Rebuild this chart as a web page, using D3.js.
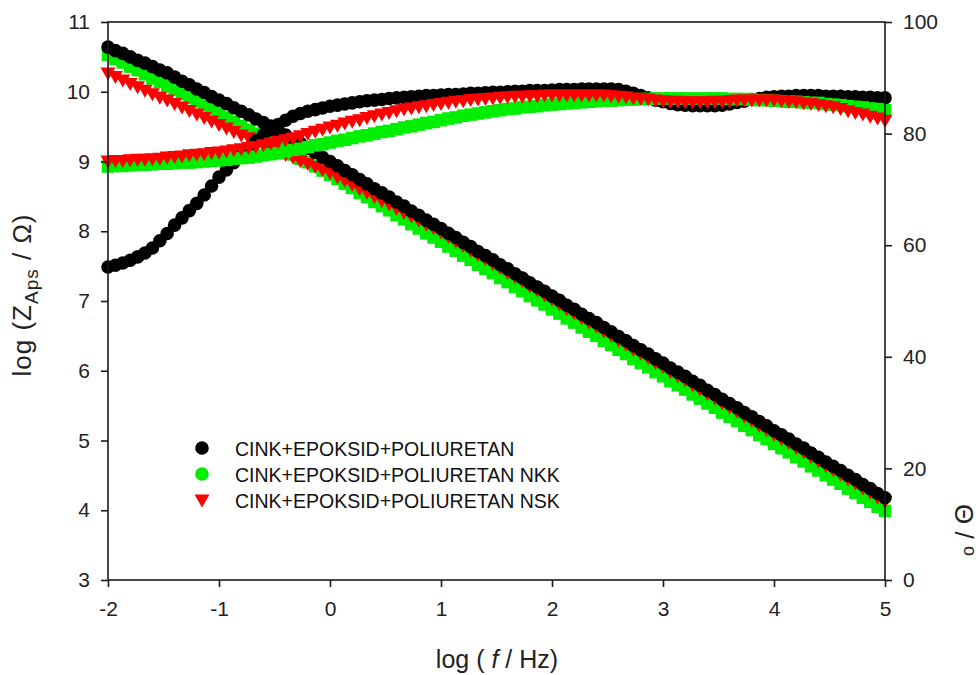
<!DOCTYPE html>
<html>
<head>
<meta charset="utf-8">
<script src="https://cdn.jsdelivr.net/npm/d3@7"></script>
<style>
  body { margin: 0; background: #fff; }
  svg { font-family: Arial, "Liberation Sans", sans-serif; }
</style>
</head>
<body>
<div id="chart"></div>
<script>
// log f (Hz), 15 points per decade
const logF = [
  -2.000, -1.933, -1.867, -1.800, -1.733, -1.667, -1.600, -1.533, -1.467, -1.400, -1.333, -1.267, -1.200, -1.133, -1.067,
  -1.000, -0.933, -0.867, -0.800, -0.733, -0.667, -0.600, -0.533, -0.467, -0.400, -0.333, -0.267, -0.200, -0.133, -0.067,
  0.000, 0.067, 0.133, 0.200, 0.267, 0.333, 0.400, 0.467, 0.533, 0.600, 0.667, 0.733, 0.800, 0.867, 0.933,
  1.000, 1.067, 1.133, 1.200, 1.267, 1.333, 1.400, 1.467, 1.533, 1.600, 1.667, 1.733, 1.800, 1.867, 1.933,
  2.000, 2.067, 2.133, 2.200, 2.267, 2.333, 2.400, 2.467, 2.533, 2.600, 2.667, 2.733, 2.800, 2.867, 2.933,
  3.000, 3.067, 3.133, 3.200, 3.267, 3.333, 3.400, 3.467, 3.533, 3.600, 3.667, 3.733, 3.800, 3.867, 3.933,
  4.000, 4.067, 4.133, 4.200, 4.267, 4.333, 4.400, 4.467, 4.533, 4.600, 4.667, 4.733, 4.800, 4.867, 4.933,
  5.000
];

// log |Z| series
const zBlack = [
  10.64, 10.59, 10.55, 10.50, 10.45, 10.41, 10.36, 10.31, 10.27, 10.21, 10.15, 10.10, 10.04, 9.99, 9.93,
  9.88, 9.83, 9.77, 9.72, 9.67, 9.61, 9.56, 9.51, 9.45, 9.38, 9.32, 9.26, 9.19, 9.13, 9.06,
  9.00, 8.94, 8.87, 8.81, 8.74, 8.68, 8.61, 8.55, 8.49, 8.42, 8.36, 8.29, 8.23, 8.16, 8.10,
  8.04, 7.97, 7.91, 7.84, 7.78, 7.71, 7.65, 7.59, 7.52, 7.46, 7.39, 7.33, 7.26, 7.20, 7.14,
  7.07, 7.01, 6.94, 6.88, 6.81, 6.75, 6.69, 6.62, 6.56, 6.49, 6.43, 6.36, 6.30, 6.24, 6.17,
  6.11, 6.04, 5.98, 5.92, 5.85, 5.79, 5.72, 5.66, 5.59, 5.53, 5.47, 5.40, 5.34, 5.27, 5.21,
  5.14, 5.08, 5.02, 4.95, 4.89, 4.82, 4.76, 4.69, 4.63, 4.57, 4.50, 4.44, 4.37, 4.31, 4.24,
  4.18
];
const zGreen = [
  10.53, 10.47, 10.42, 10.36, 10.31, 10.25, 10.19, 10.14, 10.08, 10.03, 9.97, 9.91, 9.86, 9.80, 9.75,
  9.69, 9.63, 9.57, 9.51, 9.45, 9.40, 9.34, 9.28, 9.22, 9.16, 9.10, 9.04, 8.99, 8.93, 8.87,
  8.81, 8.75, 8.68, 8.62, 8.55, 8.49, 8.42, 8.36, 8.30, 8.23, 8.17, 8.10, 8.04, 7.97, 7.91,
  7.85, 7.78, 7.72, 7.65, 7.59, 7.52, 7.46, 7.40, 7.33, 7.27, 7.20, 7.14, 7.07, 7.01, 6.95,
  6.88, 6.82, 6.75, 6.69, 6.62, 6.56, 6.50, 6.43, 6.37, 6.30, 6.24, 6.17, 6.11, 6.05, 5.98,
  5.92, 5.85, 5.79, 5.73, 5.66, 5.60, 5.53, 5.47, 5.40, 5.34, 5.28, 5.21, 5.15, 5.08, 5.02,
  4.95, 4.89, 4.83, 4.76, 4.70, 4.63, 4.57, 4.50, 4.44, 4.38, 4.31, 4.25, 4.18, 4.12, 4.05,
  3.99
];
const zRed = [
  10.27, 10.22, 10.17, 10.12, 10.07, 10.02, 9.97, 9.92, 9.88, 9.83, 9.78, 9.73, 9.68, 9.63, 9.58,
  9.53, 9.48, 9.43, 9.38, 9.34, 9.29, 9.24, 9.19, 9.15, 9.10, 9.06, 9.01, 8.97, 8.93, 8.88,
  8.84, 8.78, 8.73, 8.67, 8.61, 8.56, 8.50, 8.44, 8.39, 8.33, 8.27, 8.22, 8.16, 8.10, 8.05,
  7.99, 7.93, 7.86, 7.80, 7.73, 7.67, 7.61, 7.54, 7.48, 7.41, 7.35, 7.29, 7.22, 7.16, 7.09,
  7.03, 6.96, 6.89, 6.83, 6.76, 6.70, 6.64, 6.57, 6.51, 6.44, 6.38, 6.31, 6.25, 6.19, 6.12,
  6.06, 5.99, 5.93, 5.87, 5.80, 5.74, 5.67, 5.61, 5.54, 5.48, 5.42, 5.35, 5.29, 5.22, 5.16,
  5.09, 5.03, 4.97, 4.90, 4.84, 4.77, 4.71, 4.64, 4.58, 4.52, 4.45, 4.39, 4.32, 4.26, 4.19,
  4.13
];

// phase angle series (deg)
const phBlack = [
  56.1, 56.4, 56.8, 57.3, 57.9, 58.6, 59.5, 60.8, 62.1, 63.6, 64.9, 66.2, 67.5, 69.0, 70.6,
  72.2, 73.5, 74.8, 76.1, 77.4, 78.7, 79.8, 80.7, 81.6, 82.4, 83.1, 83.6, 84.0, 84.3, 84.6,
  84.9, 85.1, 85.3, 85.5, 85.7, 85.9, 86.0, 86.1, 86.3, 86.4, 86.5, 86.6, 86.7, 86.8, 86.8,
  86.9, 87.0, 87.0, 87.1, 87.2, 87.2, 87.3, 87.4, 87.4, 87.5, 87.6, 87.6, 87.7, 87.7, 87.7,
  87.8, 87.9, 87.9, 87.9, 88.0, 88.0, 88.0, 88.0, 88.0, 87.9, 87.6, 87.2, 86.8, 86.4, 86.0,
  85.7, 85.4, 85.2, 85.1, 85.0, 85.0, 85.0, 85.0, 85.1, 85.3, 85.6, 85.8, 86.1, 86.3, 86.5,
  86.6, 86.7, 86.7, 86.8, 86.8, 86.8, 86.8, 86.7, 86.7, 86.7, 86.6, 86.6, 86.5, 86.5, 86.4,
  86.4
];
const phGreen = [
  74.1, 74.2, 74.2, 74.3, 74.4, 74.4, 74.5, 74.6, 74.6, 74.7, 74.8, 74.8, 74.9, 75.0, 75.1,
  75.2, 75.3, 75.5, 75.6, 75.7, 75.9, 76.1, 76.3, 76.5, 76.8, 77.1, 77.3, 77.6, 77.9, 78.1,
  78.4, 78.7, 78.9, 79.2, 79.5, 79.7, 80.0, 80.3, 80.5, 80.8, 81.1, 81.3, 81.6, 81.9, 82.1,
  82.4, 82.7, 82.9, 83.2, 83.4, 83.6, 83.8, 84.0, 84.2, 84.4, 84.5, 84.7, 84.8, 84.9, 85.1,
  85.2, 85.3, 85.4, 85.5, 85.6, 85.7, 85.8, 85.9, 85.9, 86.0, 86.1, 86.1, 86.2, 86.2, 86.3,
  86.3, 86.3, 86.3, 86.3, 86.3, 86.3, 86.3, 86.3, 86.3, 86.2, 86.2, 86.2, 86.1, 86.0, 86.0,
  85.9, 85.8, 85.7, 85.7, 85.6, 85.5, 85.5, 85.3, 85.2, 85.1, 84.9, 84.8, 84.7, 84.5, 84.4,
  84.2
];
const phRed = [
  75.1, 75.2, 75.2, 75.3, 75.4, 75.4, 75.5, 75.6, 75.8, 75.9, 76.0, 76.2, 76.3, 76.4, 76.6,
  76.7, 76.9, 77.1, 77.3, 77.5, 77.7, 78.0, 78.3, 78.6, 78.9, 79.2, 79.6, 80.0, 80.4, 80.8,
  81.2, 81.5, 81.9, 82.2, 82.5, 82.9, 83.2, 83.5, 83.8, 84.1, 84.4, 84.6, 84.8, 85.0, 85.2,
  85.4, 85.6, 85.8, 85.9, 86.1, 86.2, 86.3, 86.4, 86.5, 86.6, 86.7, 86.7, 86.8, 86.8, 86.9,
  86.9, 86.9, 86.9, 86.9, 86.9, 86.9, 86.9, 86.9, 86.8, 86.7, 86.6, 86.4, 86.3, 86.2, 86.0,
  85.9, 85.8, 85.8, 85.7, 85.7, 85.7, 85.7, 85.8, 85.8, 85.9, 86.0, 86.0, 86.0, 86.0, 86.0,
  86.0, 85.9, 85.8, 85.7, 85.5, 85.4, 85.2, 85.0, 84.8, 84.5, 84.1, 83.8, 83.5, 83.1, 82.8,
  82.4
];

const xTicks = [-2, -1, 0, 1, 2, 3, 4, 5];
const yLeftTicks = [3, 4, 5, 6, 7, 8, 9, 10, 11];
const yRightTicks = [0, 20, 40, 60, 80, 100];
const seriesNames = [
  'CINK+EPOKSID+POLIURETAN',
  'CINK+EPOKSID+POLIURETAN NKK',
  'CINK+EPOKSID+POLIURETAN NSK'
];

const width = 979, height = 675;
const plot = { left: 108, right: 885, top: 22, bottom: 580 };

const svg = d3.select('#chart').append('svg')
  .attr('width', width)
  .attr('height', height);

const x = d3.scaleLinear().domain([-2, 5]).range([plot.left, plot.right]);
const yL = d3.scaleLinear().domain([3, 11]).range([plot.bottom, plot.top]);
const yR = d3.scaleLinear().domain([0, 100]).range([plot.bottom, plot.top]);

// marker shapes
const circle = d3.symbol().type(d3.symbolCircle).size(Math.PI * 6.8 * 6.8);
const square = d3.symbol().type(d3.symbolSquare).size(12.5 * 12.5);
const triDown = 'M-7.5,-5.5L7.5,-5.5L0,7.5Z';

function drawSeries(values, yScale, shape, color) {
  const g = svg.append('g');
  const pts = g.selectAll('path')
    .data(logF.map((lf, i) => ({ lf, v: values[i] })))
    .enter()
    .append('path')
    .attr('transform', d => `translate(${x(d.lf)},${yScale(d.v)})`)
    .attr('fill', color);
  if (shape === 'tri') pts.attr('d', triDown);
  else pts.attr('d', shape === 'square' ? square() : circle());
}

// impedance
drawSeries(zGreen, yL, 'square', '#00ee00');
drawSeries(zRed, yL, 'tri', '#ff0000');
drawSeries(zBlack, yL, 'circle', '#000000');
// phase
drawSeries(phBlack, yR, 'circle', '#000000');
drawSeries(phGreen, yR, 'square', '#00ee00');
drawSeries(phRed, yR, 'tri', '#ff0000');

// axes
const axisColor = '#1a1a1a';
const fmt = d => String(d);

const gB = svg.append('g')
  .attr('transform', `translate(0,${plot.bottom})`)
  .call(d3.axisBottom(x).tickValues(xTicks).tickSize(7).tickPadding(14).tickFormat(fmt));
const gL = svg.append('g')
  .attr('transform', `translate(${plot.left},0)`)
  .call(d3.axisLeft(yL).tickValues(yLeftTicks).tickSize(7).tickPadding(11).tickFormat(fmt));
const gR = svg.append('g')
  .attr('transform', `translate(${plot.right},0)`)
  .call(d3.axisRight(yR).tickValues(yRightTicks).tickSize(7).tickPadding(11).tickFormat(fmt));

[gB, gL, gR].forEach(g => {
  g.select('.domain').remove();
  g.selectAll('.tick line').attr('stroke', axisColor).attr('stroke-width', 1.6);
  g.selectAll('.tick text').attr('fill', '#222').style('font-size', '21px');
});
// frame
svg.append('rect')
  .attr('x', plot.left).attr('y', plot.top)
  .attr('width', plot.right - plot.left).attr('height', plot.bottom - plot.top)
  .attr('fill', 'none').attr('stroke', axisColor).attr('stroke-width', 1.6);

// axis titles
const xTitle = svg.append('text')
  .attr('x', 497).attr('y', 668)
  .attr('text-anchor', 'middle')
  .style('font-size', '25px').attr('fill', '#222');
xTitle.append('tspan').text('log ( ');
xTitle.append('tspan').style('font-style', 'italic').text('f');
xTitle.append('tspan').text(' / Hz)');

const yTitle = svg.append('text')
  .attr('transform', 'translate(31,295) rotate(-90)')
  .attr('text-anchor', 'middle')
  .style('font-size', '26px').style('letter-spacing', '1px').attr('fill', '#222');
yTitle.append('tspan').text('log (Z');
yTitle.append('tspan').attr('dy', 7).style('font-size', '19px').text('Aps');
yTitle.append('tspan').attr('dy', -7).text(' / Ω)');

const rTitle = svg.append('text')
  .attr('transform', 'translate(955,530) rotate(90)')
  .attr('text-anchor', 'middle')
  .style('font-size', '26px').attr('fill', '#222');
rTitle.append('tspan').text('Θ / ');
rTitle.append('tspan').attr('dy', -9).style('font-size', '18px').text('o');

// legend
const legend = svg.append('g').attr('transform', 'translate(202,448)');
const legendShapes = ['circle', 'circle', 'tri'];
const legendColors = ['#000000', '#00ee00', '#ff0000'];
seriesNames.forEach((name, i) => {
  const row = legend.append('g').attr('transform', `translate(0,${i * 26})`);
  row.append('path')
    .attr('d', legendShapes[i] === 'tri' ? triDown : circle())
    .attr('fill', legendColors[i]);
  row.append('text')
    .attr('x', 33).attr('y', 8)
    .style('font-size', '19.5px').attr('fill', '#111')
    .text(name);
});
</script>
</body>
</html>
